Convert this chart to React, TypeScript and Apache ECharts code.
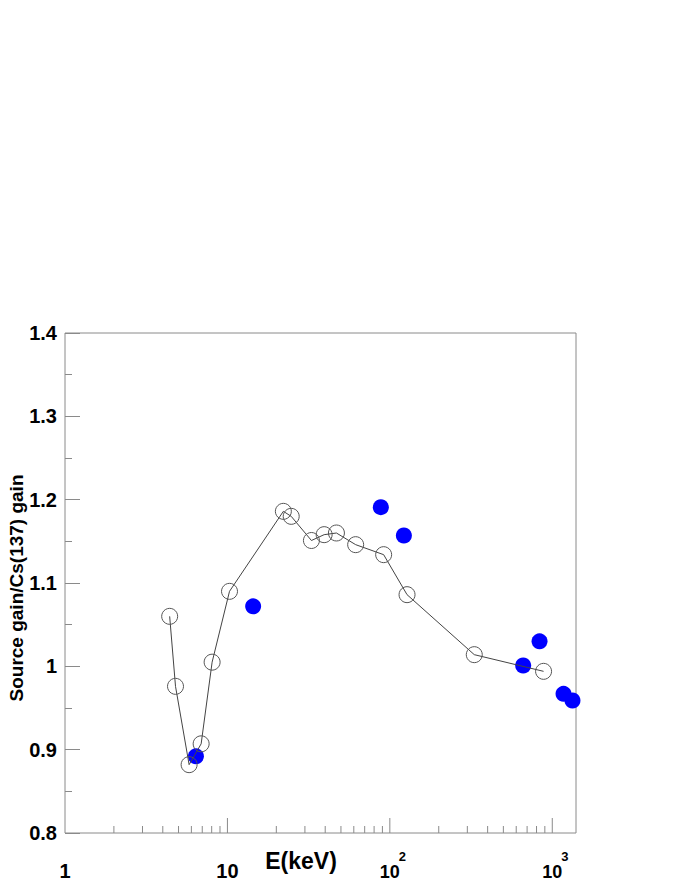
import React, { useEffect, useRef } from 'react';
import * as echarts from 'echarts';

// Open circles (joined by a line): energy (keV) and gain ratio
const openEnergies = [4.41, 4.79, 5.81, 6.89, 8.05, 10.3, 22.1, 24.7, 32.9, 39.4, 46.9, 61.6, 91.6, 127.6, 331, 884];
const openRatios = [1.060, 0.976, 0.882, 0.907, 1.005, 1.090, 1.186, 1.180, 1.151, 1.158, 1.160, 1.146, 1.134, 1.086, 1.014, 0.994];

// Filled blue points
const filledEnergies = [6.4, 14.4, 88, 122, 662, 835, 1173, 1332];
const filledRatios = [0.892, 1.072, 1.191, 1.157, 1.001, 1.030, 0.967, 0.959];

// Axis ranges, tick values and x tick labels (decades)
const X_MIN = 1;
const X_MAX = 1400;
const Y_MIN = 0.8;
const Y_MAX = 1.4;
const Y_STEP = 0.1;
const xTickValues = [
  2, 3, 4, 5, 6, 7, 8, 9, 10,
  20, 30, 40, 50, 60, 70, 80, 90, 100,
  200, 300, 400, 500, 600, 700, 800, 900, 1000,
];
const xLabelValues = [1, 10, 100, 1000];

const xTitle = 'E(keV)';
const yTitle = 'Source gain/Cs(137) gain';

const FONT = '"Liberation Sans", Arial, Helvetica, sans-serif';
const FRAME = '#8a8a8a';

export default function App() {
  const ref = useRef<HTMLDivElement>(null);

  useEffect(() => {
    if (!ref.current) return;
    const chart = echarts.init(ref.current, undefined, { renderer: 'svg' });

    const isPow10 = (v: number) => {
      const l = Math.log10(v);
      return Math.abs(l - Math.round(l)) < 1e-6;
    };

    chart.setOption({
      animation: false,
      backgroundColor: '#ffffff',
      grid: {
        left: 65,
        right: 116,
        top: 333,
        bottom: 63,
        show: true,
        borderColor: FRAME,
        borderWidth: 1,
        backgroundColor: 'transparent',
      },
      xAxis: {
        type: 'log',
        logBase: 10,
        min: X_MIN,
        max: X_MAX,
        axisLine: { show: false },
        axisTick: { show: false },
        splitLine: { show: false },
        axisLabel: { show: false },
      },
      yAxis: {
        type: 'value',
        min: Y_MIN,
        max: Y_MAX,
        interval: Y_STEP,
        axisLine: { show: false },
        splitLine: { show: false },
        axisTick: { show: true, inside: true, length: 15, lineStyle: { color: FRAME, width: 1 } },
        minorTick: { show: true, splitNumber: 2, length: 7, lineStyle: { color: FRAME, width: 1 } },
        minorSplitLine: { show: false },
        axisLabel: {
          margin: 8,
          color: '#000',
          fontFamily: FONT,
          fontWeight: 'bold',
          fontSize: 20,
          formatter: (v: number) => String(Number(v.toFixed(2))),
        },
      },
      graphic: [
        {
          type: 'text',
          x: 301,
          y: 861,
          style: {
            text: xTitle,
            font: 'bold 23px ' + FONT,
            fill: '#000',
            textAlign: 'center',
            textVerticalAlign: 'middle',
          },
        },
        {
          type: 'text',
          x: 16,
          y: 588,
          rotation: Math.PI / 2,
          style: {
            text: yTitle,
            font: 'bold 19px ' + FONT,
            fill: '#000',
            textAlign: 'center',
            textVerticalAlign: 'middle',
          },
        },
      ],
      series: [
        {
          type: 'custom',
          silent: true,
          z: 1,
          data: xTickValues.map((v) => [v, Y_MIN]),
          renderItem: (_params: any, api: any) => {
            const v = api.value(0);
            const p = api.coord([v, Y_MIN]);
            const len = isPow10(v) ? 15 : 7;
            return {
              type: 'line',
              shape: { x1: p[0], y1: p[1], x2: p[0], y2: p[1] - len },
              style: { stroke: FRAME, lineWidth: 1 },
            };
          },
        },
        {
          type: 'custom',
          silent: true,
          z: 1,
          clip: false,
          data: xLabelValues.map((v) => [v, Y_MIN]),
          renderItem: (_params: any, api: any) => {
            const v = api.value(0);
            const p = api.coord([v, Y_MIN]);
            const e = Math.round(Math.log10(v));
            if (e <= 1) {
              return {
                type: 'text',
                x: p[0],
                y: p[1] + 38,
                style: {
                  text: e === 0 ? '1' : '10',
                  font: 'bold 20px ' + FONT,
                  fill: '#000',
                  textAlign: 'center',
                  textVerticalAlign: 'middle',
                },
              };
            }
            return {
              type: 'group',
              children: [
                {
                  type: 'text',
                  x: p[0],
                  y: p[1] + 39,
                  style: {
                    text: '10',
                    font: 'bold 18px ' + FONT,
                    fill: '#000',
                    textAlign: 'center',
                    textVerticalAlign: 'middle',
                  },
                },
                {
                  type: 'text',
                  x: p[0] + 9,
                  y: p[1] + 23,
                  style: {
                    text: String(e),
                    font: 'bold 13px ' + FONT,
                    fill: '#000',
                    textAlign: 'left',
                    textVerticalAlign: 'middle',
                  },
                },
              ],
            };
          },
        },
        {
          type: 'scatter',
          z: 2,
          symbol: 'circle',
          symbolSize: 16,
          itemStyle: { color: '#0000ff', opacity: 1 },
          data: filledEnergies.map((e, i) => [e, filledRatios[i]]),
        },
        {
          type: 'line',
          z: 3,
          symbol: 'circle',
          symbolSize: 16,
          showAllSymbol: true,
          lineStyle: { color: '#444', width: 1 },
          itemStyle: { color: 'rgba(0,0,0,0)', borderColor: '#555', borderWidth: 1 },
          data: openEnergies.map((e, i) => [e, openRatios[i]]),
        },
      ],
    });

    return () => chart.dispose();
  }, []);

  return (
    <div
      ref={ref}
      style={{ position: 'fixed', left: 0, top: 0, width: 692, height: 896, background: '#fff' }}
    />
  );
}
